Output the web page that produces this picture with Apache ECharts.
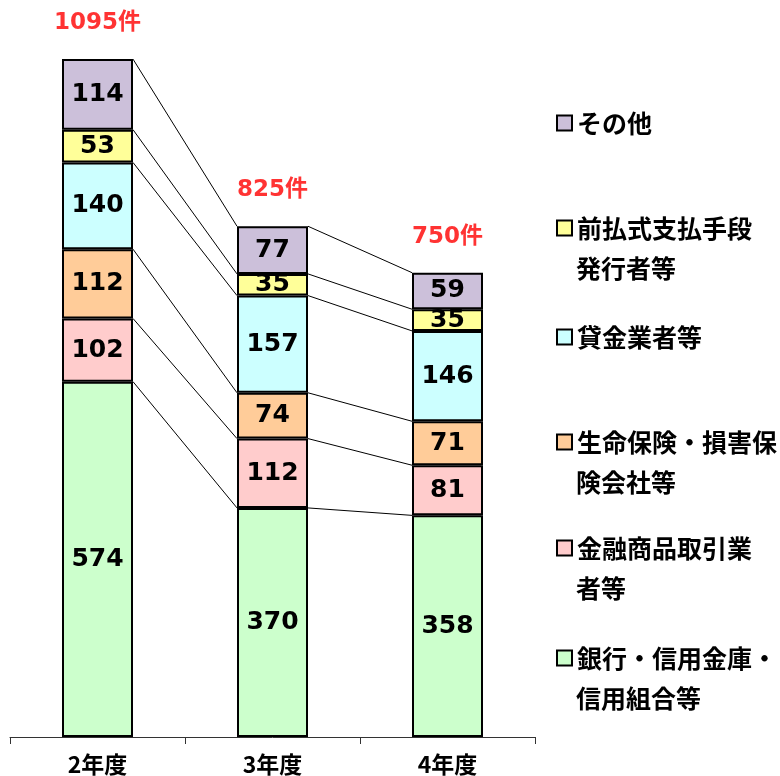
<!DOCTYPE html>
<html>
<head>
<meta charset="utf-8">
<script src="https://cdn.jsdelivr.net/npm/echarts@6/dist/echarts.min.js"></script>
<style>
html,body{margin:0;padding:0;background:#fff;}
#chart{width:780px;height:776px;}
</style>
</head>
<body>
<div id="chart"></div>
<script>
// ---- data ----
var categories = ['2年度', '3年度', '4年度'];
var seriesNames = ['銀行・信用金庫・信用組合等', '金融商品取引業者等', '生命保険・損害保険会社等', '貸金業者等', '前払式支払手段発行者等', 'その他'];
// legend text split into the two printed lines
var legendLine1 = ['銀行・信用金庫・', '金融商品取引業', '生命保険・損害保', '貸金業者等', '前払式支払手段', 'その他'];
var legendLine2 = ['信用組合等', '者等', '険会社等', '', '発行者等', ''];
var banks      = [574, 370, 358];
var securities = [102, 112, 81];
var insurance  = [112, 74, 71];
var lenders    = [140, 157, 146];
var prepaid    = [53, 35, 35];
var others     = [114, 77, 59];
var totals     = [1095, 825, 750];
var totalSuffix = '件';

var seriesValues = [banks, securities, insurance, lenders, prepaid, others];
var colors = ['#CCFFCC', '#FFCCCC', '#FFCC99', '#CCFFFF', '#FFFF99', '#CCC0DA'];
// legend first-line centre positions (layout)
var legendCenters = [658, 548, 442, 337, 228, 123];

// cumulative tops for connector lines
var connectorData = [];
var cum = categories.map(function () { return 0; });
seriesValues.forEach(function (vals) {
  cum = cum.map(function (c, i) { return c + vals[i]; });
  for (var i = 0; i < categories.length - 1; i++) {
    connectorData.push([i, cum[i], cum[i + 1]]);
  }
});

var BAR_W = 71;
var series = seriesValues.map(function (vals, k) {
  return {
    name: seriesNames[k],
    type: 'bar',
    stack: 'total',
    barWidth: BAR_W,
    data: vals,
    z: 3,
    itemStyle: { color: colors[k], borderColor: '#000', borderWidth: 2 },
    label: {
      show: true,
      position: 'inside',
      color: '#000',
      fontFamily: 'DejaVu Sans',
      fontWeight: 'bold',
      fontSize: 25
    }
  };
});

series.push({
  type: 'custom',
  name: 'connectors',
  z: 2,
  silent: true,
  data: connectorData,
  encode: { x: 0, y: [1, 2] },
  renderItem: function (params, api) {
    var p1 = api.coord([api.value(0), api.value(1)]);
    var p2 = api.coord([api.value(0) + 1, api.value(2)]);
    return {
      type: 'line',
      shape: { x1: p1[0] + BAR_W / 2, y1: p1[1], x2: p2[0] - BAR_W / 2, y2: p2[1] },
      style: { stroke: '#000', lineWidth: 1 }
    };
  }
});

series.push({
  type: 'scatter',
  name: 'totals',
  z: 4,
  silent: true,
  symbolSize: 1,
  itemStyle: { color: 'rgba(0,0,0,0)' },
  data: totals.map(function (t, i) { return [i, t]; }),
  label: {
    show: true,
    position: 'top',
    distance: 24,
    color: '#FF0000',
    fontFamily: 'DejaVu Sans, "Noto Sans CJK JP"',
    fontWeight: 'bold',
    fontSize: 23,
    formatter: function (p) { return p.value[1] + totalSuffix; }
  }
});

var LEG_FONT = 25;
var legends = seriesNames.map(function (name, k) {
  return {
    data: [name],
    orient: 'vertical',
    left: 556,
    top: legendCenters[k] - 20,
    padding: 0,
    selectedMode: false,
    icon: 'rect',
    itemWidth: 15,
    itemHeight: 15,
    itemStyle: { borderColor: '#000', borderWidth: 2 },
    formatter: function () { return legendLine1[k]; },
    textStyle: {
      color: '#000',
      fontFamily: '"Noto Sans CJK JP"',
      fontWeight: 'bold',
      fontSize: LEG_FONT,
      lineHeight: 40
    }
  };
});

var graphics = [];
legendLine2.forEach(function (txt, k) {
  if (!txt) return;
  graphics.push({
    type: 'text',
    left: 576,
    top: legendCenters[k] + 40 - 20,
    style: {
      text: txt,
      fill: '#000',
      font: 'bold ' + LEG_FONT + 'px "Noto Sans CJK JP"',
      lineHeight: 40,
      verticalAlign: 'top'
    }
  });
});

var chart = echarts.init(document.getElementById('chart'), null, { renderer: 'canvas' });
chart.setOption({
  animation: false,
  backgroundColor: '#fff',
  grid: { left: 10, right: 245, top: 56, bottom: 39, containLabel: false },
  legend: legends,
  graphic: graphics,
  xAxis: {
    type: 'category',
    data: categories,
    axisLine: { show: true, lineStyle: { color: '#333', width: 1 } },
    axisTick: { show: true, length: 7, lineStyle: { color: '#333' } },
    axisLabel: {
      color: '#000',
      fontFamily: '"Noto Sans CJK JP"',
      fontWeight: 'bold',
      fontSize: 23,
      margin: 16
    }
  },
  yAxis: {
    type: 'value',
    min: 0,
    max: 1100,
    show: false,
    splitLine: { show: false }
  },
  series: series
});
</script>
</body>
</html>
